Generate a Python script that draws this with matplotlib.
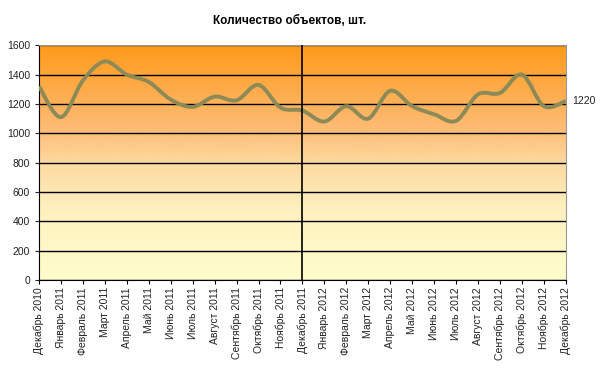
import numpy as np
import matplotlib
matplotlib.use("Agg")
import matplotlib.pyplot as plt
from matplotlib.path import Path
from matplotlib.patches import PathPatch
from matplotlib.colors import LinearSegmentedColormap

plt.rcParams['font.family'] = ['Liberation Sans', 'DejaVu Sans']

# data
months = ["Декабрь 2010", "Январь 2011", "Февраль 2011", "Март 2011", "Апрель 2011",
          "Май 2011", "Июнь 2011", "Июль 2011", "Август 2011", "Сентябрь 2011",
          "Октябрь 2011", "Ноябрь 2011", "Декабрь 2011", "Январь 2012", "Февраль 2012",
          "Март 2012", "Апрель 2012", "Май 2012", "Июнь 2012", "Июль 2012",
          "Август 2012", "Сентябрь 2012", "Октябрь 2012", "Ноябрь 2012", "Декабрь 2012"]
counts = [1320, 1110, 1360, 1490, 1400, 1350, 1230, 1180, 1250, 1225, 1330, 1175,
          1155, 1080, 1185, 1100, 1290, 1185, 1130, 1085, 1265, 1275, 1400, 1185, 1220]
marker_month = "Декабрь 2011"

fig = plt.figure(figsize=(6, 3.68), dpi=100)
ax = fig.add_axes([0.065, 0.239, 0.878, 0.638])

x = np.arange(len(counts))
ax.set_xlim(0, len(counts) - 1)
ax.set_ylim(0, 1600)

# gradient background
cmap = LinearSegmentedColormap.from_list("bg", [
    (0.0, "#fffdcc"), (0.3, "#fef1bf"), (0.5, "#fdd9a0"),
    (0.65, "#fdbb73"), (1.0, "#ff9a1a")])
grad = np.linspace(0, 1, 256).reshape(-1, 1)
ax.imshow(grad, cmap=cmap, aspect='auto', origin='lower',
          extent=[0, len(counts) - 1, 0, 1600], zorder=0)

ax.set_yticks(np.arange(0, 1601, 200))
ax.grid(axis='y', color='black', linewidth=1, zorder=1)

# smooth line (Catmull-Rom -> Bezier, like Excel smoothing)
pts = np.column_stack([x, counts]).astype(float)
verts = [pts[0]]
codes = [Path.MOVETO]
for i in range(len(pts) - 1):
    p0 = pts[i - 1] if i > 0 else pts[i]
    p1 = pts[i]
    p2 = pts[i + 1]
    p3 = pts[i + 2] if i + 2 < len(pts) else pts[i + 1]
    c1 = p1 + (p2 - p0) / 6
    c2 = p2 - (p3 - p1) / 6
    verts += [c1, c2, p2]
    codes += [Path.CURVE4] * 3
ax.add_patch(PathPatch(Path(verts, codes), fill=False, edgecolor='#8c8a58',
                       linewidth=2.8, zorder=3))

ax.axvline(months.index(marker_month), color='black', linewidth=1.2, zorder=4)

ax.text(len(counts) - 1 + 0.3, counts[-1], str(counts[-1]), fontsize=7.5,
        va='center', ha='left', color='#222222')

ax.set_xticks(x)
ax.set_xticklabels(months, rotation=90, fontsize=7.5, color='#222222')
ax.tick_params(axis='y', labelsize=7.5, colors='#222222', length=3)
ax.tick_params(axis='x', length=3, pad=2)

for s in ['top', 'right']:
    ax.spines[s].set_color('#999999')
for s in ['left', 'bottom']:
    ax.spines[s].set_color('black')

fig.text(0.483, 0.942, "Количество объектов, шт.", fontsize=8.5,
         fontweight='bold', ha='center', va='center')

plt.savefig("out.png", dpi=100)
